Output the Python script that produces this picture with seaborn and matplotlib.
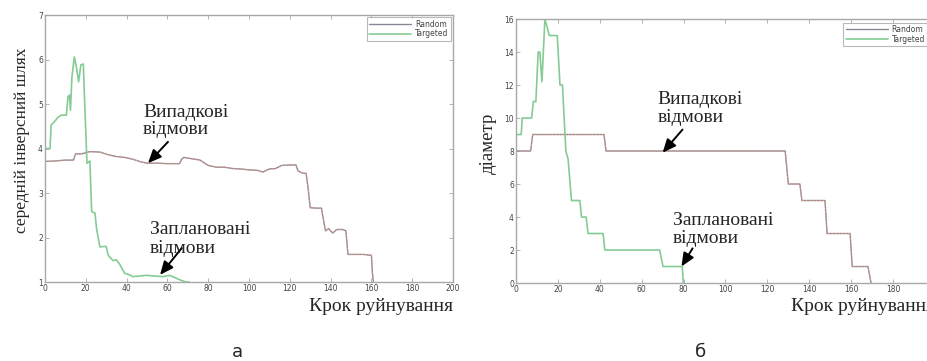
import matplotlib
matplotlib.use("Agg")
import matplotlib.pyplot as plt
import seaborn as sns

# ── Data ─────────────────────────────────────────────────────────────────────
# panel a: average inverse path length
rand_x_a = [0, 5, 10, 14, 15, 18, 22, 27, 31, 35, 39, 43, 47, 50, 55, 60, 66, 67, 68,
            72, 76, 80, 84, 88, 92, 96, 100, 104, 107, 108, 110, 113, 116, 120, 123,
            124, 126, 128, 129, 130, 133, 135.5, 136.5, 137.5, 139, 141, 143, 146,
            147.5, 148.5, 152, 156, 160, 160.5, 161]
rand_y_a = [3.71, 3.72, 3.74, 3.74, 3.88, 3.88, 3.93, 3.92, 3.86, 3.82, 3.80, 3.76, 3.70,
            3.67, 3.67, 3.66, 3.66, 3.76, 3.80, 3.77, 3.74, 3.62, 3.58, 3.58, 3.55, 3.54,
            3.52, 3.51, 3.47, 3.50, 3.54, 3.55, 3.62, 3.63, 3.63, 3.50, 3.45, 3.44, 3.10,
            2.67, 2.66, 2.66, 2.40, 2.15, 2.20, 2.10, 2.18, 2.18, 2.15, 1.62, 1.62, 1.62,
            1.60, 1.20, 1.00]
targ_x_a = [0, 2.5, 3, 5, 6.5, 8, 10.5, 11.3, 12, 12.5, 13.2, 14.4, 15.5, 16.5, 17.6,
            18.8, 19.4, 20.6, 22, 22.9, 24.5, 25.3, 26.9, 30, 31, 33.4, 35, 36.6, 39,
            42, 43, 49.6, 57.7, 61, 62.7, 66, 69, 70.6]
targ_y_a = [4.0, 4.0, 4.53, 4.62, 4.71, 4.75, 4.75, 5.16, 5.2, 4.86, 5.6, 6.06, 5.8, 5.5,
            5.88, 5.9, 5.1, 3.67, 3.72, 2.58, 2.55, 2.2, 1.79, 1.8, 1.6, 1.48, 1.5, 1.4,
            1.2, 1.15, 1.12, 1.15, 1.12, 1.15, 1.12, 1.05, 1.0, 1.0]

# panel б: diameter
rand_x_b = [0, 7, 8, 42, 43, 128.5, 130, 135.5, 136.5, 147.5, 148.5, 159.5, 160.5, 168, 169.5]
rand_y_b = [8, 8, 9, 9, 8, 8, 6, 6, 5, 5, 3, 3, 1, 1, 0]
targ_x_b = [0, 2.5, 3, 7.5, 8.3, 9.5, 10.6, 11.4, 12.4, 13.8, 14.9, 15.9, 19.7, 21, 22.2,
            23.8, 24.9, 26.5, 30.5, 31.3, 33.5, 34.4, 41.6, 42.4, 68.6, 70.2, 79.4, 79.9]
targ_y_b = [9, 9, 10, 10, 11, 11, 14, 14, 12.2, 16, 15.5, 15, 15, 12, 12, 8, 7.5, 5, 5,
            4, 4, 3, 3, 2, 2, 1, 1, 0]

legend_labels = ["Random", "Targeted"]
xlabel = "Крок руйнування"
ylabels = ["середній інверсний шлях", "діаметр"]
panel_names = ["а", "б"]
note_random = ["Випадкові", "відмови"]
note_target = ["Заплановані", "відмови"]

# ── Style ────────────────────────────────────────────────────────────────────
sns.set_style("white")
plt.rcParams["font.family"] = ["DejaVu Sans"]
GRAY = "#8a8696"
SALMON = "#f0a07a"
GREEN = "#84cc94"
SPINE = "#a8a8a8"
SERIF = ["Liberation Serif", "DejaVu Serif"]

fig = plt.figure(figsize=(9.27, 3.61), dpi=100)
ax_a = fig.add_axes([0.0485, 0.2188, 0.4402, 0.7396])
ax_b = fig.add_axes([0.5566, 0.2160, 0.4520, 0.7313])


def draw(ax, rx, ry, tx, ty, legend_anchor):
    sns.lineplot(x=rx, y=ry, estimator=None, sort=False, color=GRAY, lw=1.0,
                 label=legend_labels[0], ax=ax)
    sns.lineplot(x=rx, y=ry, estimator=None, sort=False, color=SALMON, lw=0.6,
                 ls=(0, (2, 2)), label="_nolegend_", ax=ax)
    sns.lineplot(x=tx, y=ty, estimator=None, sort=False, color=GREEN, lw=1.2,
                 label=legend_labels[1], ax=ax)
    for s in ax.spines.values():
        s.set_color(SPINE)
        s.set_linewidth(1.0)
    ax.tick_params(direction="in", length=3, width=0.6, color=SPINE,
                   labelsize=5.5, labelcolor="#444444", pad=1.5,
                   top=True, right=True, bottom=True, left=True)
    ax.set_xlim(0, 200)
    ax.set_xticks(range(0, 201, 20))
    leg = ax.legend(loc="upper right", bbox_to_anchor=legend_anchor,
                    bbox_transform=ax.transAxes, fontsize=5.5, handlelength=5.5,
                    frameon=True, fancybox=False, borderaxespad=0.3,
                    borderpad=0.3, labelspacing=0.1, handletextpad=0.5)
    leg.get_frame().set_edgecolor(SPINE)
    leg.get_frame().set_linewidth(0.8)
    for t in leg.get_texts():
        t.set_color("#444444")


def note(ax, lines, xy, xytext, arrow_from, fs=14):
    x, y1, y2 = xytext
    ax.text(x, y1, lines[0], family=SERIF, fontsize=fs, va="center", ha="left")
    ax.text(x, y2, lines[1], family=SERIF, fontsize=fs, va="center", ha="left")
    ax.annotate("", xy=xy, xytext=arrow_from,
                arrowprops=dict(arrowstyle="-|>,head_length=0.8,head_width=0.35",
                                color="black", lw=1.4, shrinkA=0, shrinkB=0))


draw(ax_a, rand_x_a, rand_y_a, targ_x_a, targ_y_a, (1.0, 1.0))
ax_a.set_ylim(1, 7)
ax_a.set_yticks(range(1, 8))
note(ax_a, note_random, (50.5, 3.67), (48, 4.8, 4.42), (60.3, 4.15))
note(ax_a, note_target, (56.4, 1.16), (51.5, 2.17, 1.76), (67, 1.76))

draw(ax_b, rand_x_b, rand_y_b, targ_x_b, targ_y_b, (0.987, 0.995))
ax_b.set_ylim(0, 16)
ax_b.set_yticks(range(0, 17, 2))
note(ax_b, note_random, (70, 7.9), (67.6, 11.1, 10.06), (79.5, 9.3))
note(ax_b, note_target, (79, 1.0), (74.8, 3.8, 2.7), (84.3, 2.1))

for ax in (ax_a, ax_b):
    ax.set_xlabel("")
    ax.set_ylabel("")
    ax.text(1.0, -0.09, xlabel, transform=ax.transAxes, family=SERIF,
            fontsize=14, ha="right", va="center")

fig.text(0.024, 0.612, ylabels[0], family=SERIF, fontsize=12.5, rotation=90,
         ha="center", va="center")
fig.text(0.527, 0.604, ylabels[1], family=SERIF, fontsize=13.5, rotation=90,
         ha="center", va="center")
fig.text(237 / 927, 1 - 352 / 361, panel_names[0], fontsize=13, ha="center", va="center")
fig.text(700 / 927, 1 - 352 / 361, panel_names[1], fontsize=13, ha="center", va="center")

fig.savefig("out.png", dpi=100)
